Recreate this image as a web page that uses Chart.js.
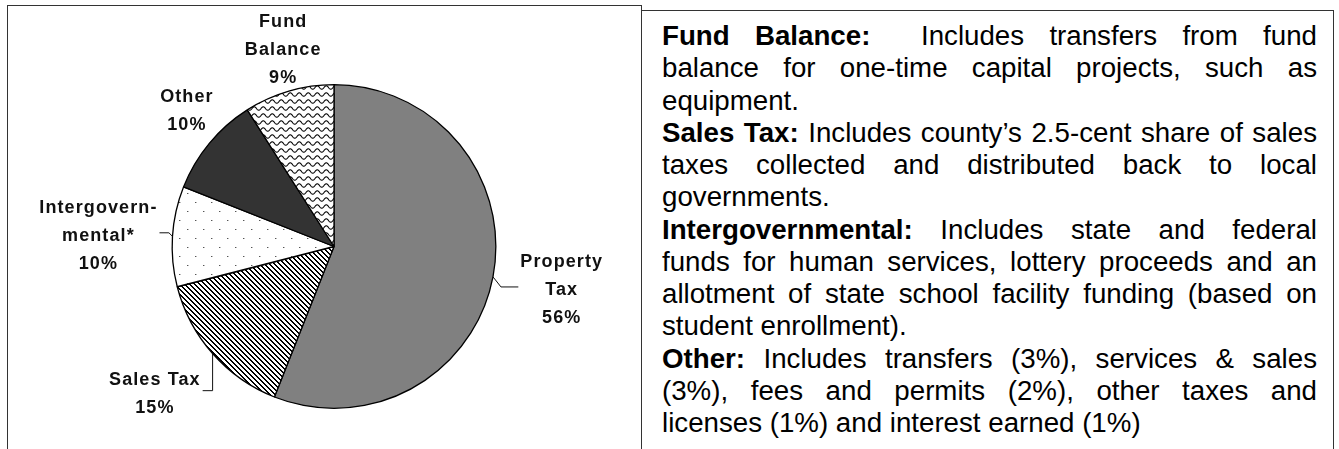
<!DOCTYPE html>
<html>
<head>
<meta charset="utf-8">
<script src="https://cdn.jsdelivr.net/npm/chart.js@4.4.1/dist/chart.umd.min.js"></script>
<style>
  html, body { margin: 0; padding: 0; background: #fff; }
  body { width: 1339px; height: 449px; position: relative; overflow: hidden; }
  #pie { position: absolute; left: 0; top: 0; }
  .rule { position: absolute; background: #333; }
  #notes {
    position: absolute; left: 662px; top: 20px; width: 655px;
    font-family: 'Liberation Sans', Arial, sans-serif; font-size: 27.7px;
    line-height: 32.25px; color: #000;
  }
  #notes div { text-align: justify; text-align-last: justify; }
  #notes div.end { text-align-last: left; }
</style>
</head>
<body>
<div class="rule" style="left:7px;top:5px;width:635px;height:1px"></div>
<div class="rule" style="left:7px;top:5px;width:1px;height:444px"></div>
<div class="rule" style="left:641px;top:5px;width:1px;height:444px"></div>
<div class="rule" style="left:641px;top:10px;width:693px;height:1px"></div>
<div class="rule" style="left:1333px;top:10px;width:1px;height:439px"></div>

<canvas id="pie" width="640" height="449"></canvas>

<div id="notes">
  <div><b>Fund Balance:</b>&nbsp; Includes transfers from fund</div>
  <div>balance for one-time capital projects, such as</div>
  <div class="end">equipment.</div>
  <div><b>Sales Tax:</b> Includes county’s 2.5-cent share of sales</div>
  <div>taxes collected and distributed back to local</div>
  <div class="end">governments.</div>
  <div><b>Intergovernmental:</b> Includes state and federal</div>
  <div>funds for human services, lottery proceeds and an</div>
  <div>allotment of state school facility funding (based on</div>
  <div class="end">student enrollment).</div>
  <div><b>Other:</b> Includes transfers (3%), services &amp; sales</div>
  <div>(3%), fees and permits (2%), other taxes and</div>
  <div class="end">licenses (1%) and interest earned (1%)</div>
</div>

<script>
const categories = ['Property Tax', 'Sales Tax', 'Intergovernmental', 'Other', 'Fund Balance'];
const shares = [56, 15, 10, 10, 9];
const labelLines = [['Property', 'Tax'], ['Sales Tax'], ['Intergovern-', 'mental*'], ['Other'], ['Fund', 'Balance']];

// small repeating tiles for the hatched slices
function makeTile(w, h, draw) {
    const c = document.createElement('canvas');
    c.width = w;
    c.height = h;
    const g = c.getContext('2d');
    g.fillStyle = '#fff';
    g.fillRect(0, 0, w, h);
    draw(g, w, h);
    return c;
}

const stripeTile = makeTile(5, 5, (g, w, h) => {
    g.fillStyle = '#000';
    for (let y = 0; y < h; y++) {
        for (let x = 0; x < w; x++) {
            if ((x - y + w * 2) % w < 2) g.fillRect(x, y, 1, 1);
        }
    }
});

const dotTile = makeTile(16, 18, (g) => {
    g.fillStyle = '#555';
    g.fillRect(3, 4, 1, 1);
    g.fillRect(11, 13, 1, 1);
    g.fillStyle = '#bbb';
    g.fillRect(4, 4, 1, 1);
    g.fillRect(12, 13, 1, 1);
});

const waveTile = makeTile(9, 7, (g, w) => {
    g.strokeStyle = '#000';
    g.lineWidth = 1.1;
    g.beginPath();
    for (let x = -1; x <= w + 1; x += 0.25) {
        const y = 3.5 - 1.7 * Math.sin((2 * Math.PI * x) / w);
        if (x === -1) g.moveTo(x, y); else g.lineTo(x, y);
    }
    g.stroke();
});

const canvas = document.getElementById('pie');
const pctx = canvas.getContext('2d');
const fills = [
    '#808080',
    pctx.createPattern(stripeTile, 'repeat'),
    pctx.createPattern(dotTile, 'repeat'),
    '#333333',
    pctx.createPattern(waveTile, 'repeat'),
];

// use the narrow face if it is installed
function hasFont(name) {
    const c = document.createElement('canvas').getContext('2d');
    c.font = 'bold 20px monospace';
    const a = c.measureText('Property Tax 56%').width;
    c.font = `bold 20px "${name}", monospace`;
    return c.measureText('Property Tax 56%').width !== a;
}
const narrow = hasFont('Liberation Sans Narrow');
const labelFont = narrow ? 'bold 20px "Liberation Sans Narrow"' : 'bold 18px "Liberation Sans", Arial';
const labelSpacing = narrow ? '2px' : '1.1px';

const sliceLabels = {
    id: 'sliceLabels',
    afterDatasetsDraw(chart, args, opts) {
        const ctx = chart.ctx;
        const meta = chart.getDatasetMeta(0);
        const values = chart.data.datasets[0].data;
        ctx.save();
        ctx.font = opts.font;
        if ('letterSpacing' in ctx) ctx.letterSpacing = opts.spacing;
        ctx.fillStyle = '#111';
        ctx.strokeStyle = '#111';
        ctx.lineWidth = 1;
        ctx.textAlign = 'center';
        ctx.textBaseline = 'middle';
        meta.data.forEach((arc, i) => {
            const { x, y, startAngle, endAngle, outerRadius } =
                arc.getProps(['x', 'y', 'startAngle', 'endAngle', 'outerRadius'], true);
            const mid = (startAngle + endAngle) / 2;
            const at = mid + (opts.shift[i] * Math.PI) / 180;
            const lines = labelLines[i].concat(values[i] + '%');
            const dist = outerRadius + opts.gap[i];
            const cx = x + Math.cos(at) * dist;
            const cy = y + Math.sin(at) * dist;
            const top = cy - ((lines.length - 1) * opts.lineHeight) / 2;
            let widest = 0;
            lines.forEach((t, k) => {
                widest = Math.max(widest, ctx.measureText(t).width);
                ctx.fillText(t, cx, top + k * opts.lineHeight);
            });
            if (opts.leader[i]) {
                const cos = Math.cos(mid);
                const ex = x + cos * outerRadius;
                const ey = y + Math.sin(mid) * outerRadius;
                const ky = cy - 3;
                const side = cos >= 0 ? 1 : -1;
                const bend = Math.abs(cos) > 0.9 ? side * Math.min(Math.abs(ky - ey), 8) : 0;
                ctx.beginPath();
                ctx.moveTo(ex, ey);
                ctx.lineTo(ex + bend, ky);
                ctx.lineTo(cx - side * (widest / 2 + 2), ky);
                ctx.stroke();
            }
        });
        ctx.restore();
    },
};

new Chart(canvas, {
    type: 'pie',
    data: {
        labels: categories,
        datasets: [{
            data: shares,
            backgroundColor: fills,
            borderColor: '#000',
            borderWidth: 1.3,
        }],
    },
    options: {
        responsive: false,
        animation: false,
        devicePixelRatio: 1,
        layout: { padding: { left: 134, right: 106, top: 84, bottom: 40 } },
        plugins: {
            legend: { display: false },
            tooltip: { enabled: false },
            sliceLabels: {
                font: labelFont,
                spacing: labelSpacing,
                lineHeight: 28,
                gap: [70, 70, 74, 38, 41],
                shift: [0, 2, -1, 3, 1.7],
                leader: [true, true, true, false, false],
            },
        },
    },
    plugins: [sliceLabels],
});
</script>
</body>
</html>
